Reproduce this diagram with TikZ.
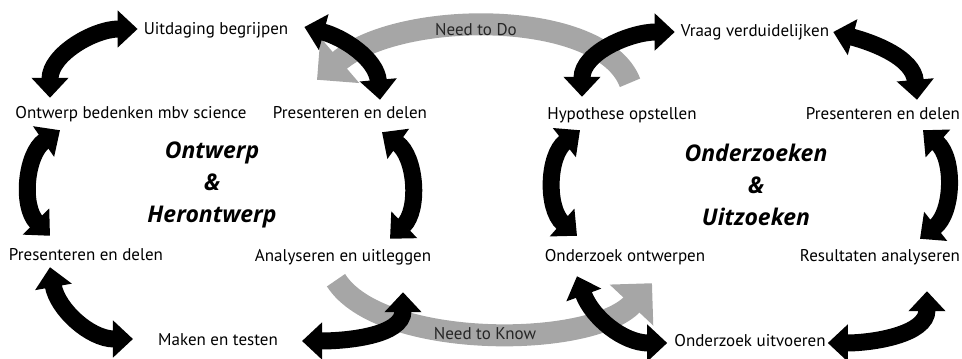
\documentclass[tikz,border=0pt]{standalone}
\usepackage{fontspec}
\setmainfont{PT Sans}
\newfontfamily\titlefont{Open Sans}
\usetikzlibrary{arrows.meta}

\begin{document}
\begin{tikzpicture}[x=1pt,y=1pt,
    lbl/.style={inner sep=2pt,font=\fontsize{17}{20}\selectfont,text height=12pt,text depth=4pt},
    title/.style={font=\titlefont\fontsize{23}{32}\selectfont\bfseries\itshape,align=center},
    cyc/.style={line width=17pt,{Triangle[width=36pt,length=20pt]}-{Triangle[width=36pt,length=20pt]}},
    need/.style={line width=22pt,black!35,-{Triangle[width=58pt,length=30pt]}},
    needtxt/.style={font=\fontsize{17}{20}\selectfont,text=black!85}]
    \useasboundingbox (0,0) rectangle (962,359);

    % ontwerp cycle
    \node[lbl] (uit) at (216,328) {Uitdaging begrijpen};
    \node[lbl] (ontw) at (131,244) {Ontwerp bedenken mbv science};
    \node[lbl] (presA) at (350,244) {Presenteren en delen};
    \node[lbl] (presB) at (86,102) {Presenteren en delen};
    \node[lbl] (anal) at (343,101) {Analyseren en uitleggen};
    \node[lbl] (maken) at (218,17) {Maken en testen};
    \node[title] (ontwt) at (212,174) {Ontwerp\\\&\\Herontwerp};

    % onderzoek cycle
    \node[lbl] (vraag) at (755,326) {Vraag verduidelijken};
    \node[lbl] (hyp) at (622,243) {Hypothese opstellen};
    \node[lbl] (presC) at (883,243) {Presenteren en delen};
    \node[lbl] (onzo) at (625,101) {Onderzoek ontwerpen};
    \node[lbl] (res) at (880,101) {Resultaten analyseren};
    \node[lbl] (uitv) at (750,16) {Onderzoek uitvoeren};
    \node[title] (onzot) at (756,174) {Onderzoeken\\\&\\Uitzoeken};

    % grey links
    \draw[need] ([shift={(8,23)}]hyp.north) .. controls +(-28,74) and +(83,71) .. ([shift={(-33,25)}]presA.north);
    \draw[need] ([shift={(-7,-12)}]anal.south) .. controls +(44,-69) and +(-62,-66) .. ([shift={(27,-15)}]onzo.south);
    \node[needtxt] (ntd) at (476,329) {Need to Do};
    \node[needtxt] (ntk) at (485,25) {Need to Know};

    \draw[cyc] ([shift={(-81,7)}]ontw.north) to[out=90,in=180] ([shift={(-4,2)}]uit.west);
    \draw[cyc] ([shift={(14,4)}]uit.east) to[out=-15,in=95] ([shift={(30,5)}]presA.north);
    \draw[cyc] ([shift={(32,-7)}]presA.south) to[bend left=50] ([shift={(47,9)}]anal.north);
    \draw[cyc] ([shift={(-71,-5)}]ontw.south) to[bend right=50] ([shift={(-36,11)}]presB.north);
    \draw[cyc] ([shift={(-36,0)}]presB.south) to[out=280,in=180] ([shift={(-23,3)}]maken.west);
    \draw[cyc] ([shift={(22,1)}]maken.east) to[out=0,in=270] ([shift={(60,-24)}]anal.south);

    \draw[cyc] ([shift={(-40,9)}]hyp.north) to[out=90,in=180] ([shift={(-4,1)}]vraag.west);
    \draw[cyc] ([shift={(2,1)}]vraag.east) to[out=-15,in=95] ([shift={(34,6)}]presC.north);
    \draw[cyc] ([shift={(40,-4)}]presC.south) to[bend left=50] ([shift={(40,9)}]res.north);
    \draw[cyc] ([shift={(-42,-4)}]hyp.south) to[bend right=50] ([shift={(-48,12)}]onzo.north);
    \draw[cyc] ([shift={(-48,-8)}]onzo.south) to[out=290,in=180] ([shift={(-5,0)}]uitv.west);
    \draw[cyc] (uitv.east) to[out=0,in=270] ([shift={(47,-23)}]res.south);
\end{tikzpicture}
\end{document}
